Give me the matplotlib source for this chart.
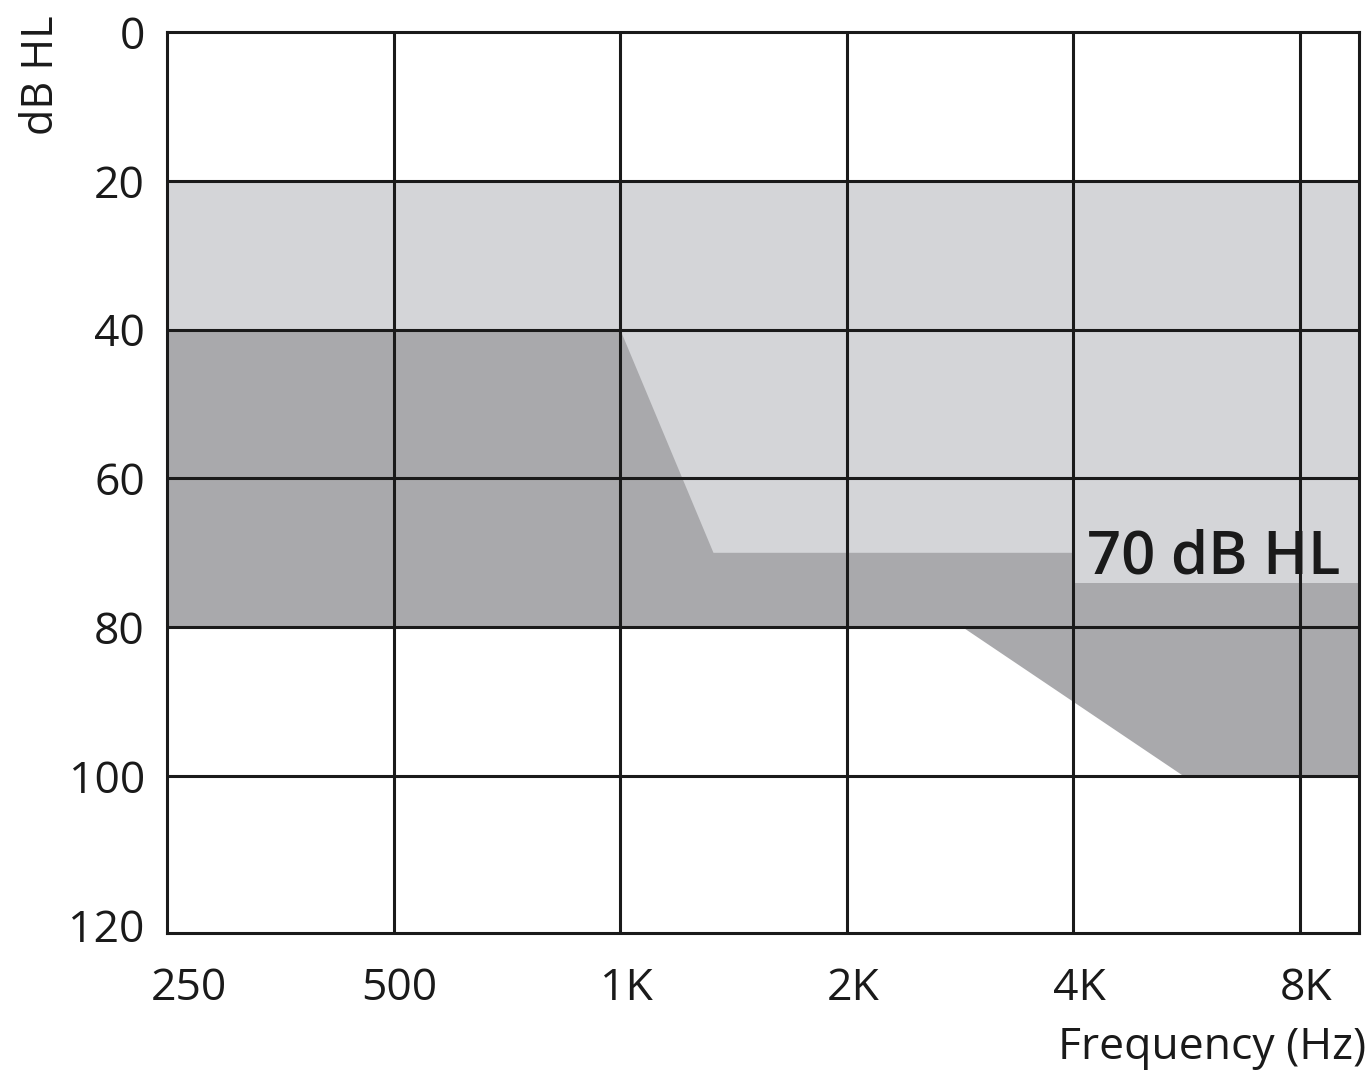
import matplotlib
matplotlib.use("Agg")
import matplotlib.pyplot as plt
import matplotlib.transforms as mtransforms

plt.rcParams['font.family'] = ['Open Sans', 'DejaVu Sans']

# ---- data ----
freq_ticks = [250, 500, 1000, 2000, 4000, 8000]
freq_labels = ["250", "500", "1K", "2K", "4K", "8K"]
db_ticks = [0, 20, 40, 60, 80, 100, 120]
db_labels = ["0", "20", "40", "60", "80", "100", "120"]

x_min, x_max = 251, 9580
y_min, y_max = 0, 121.1

# light band (mild/moderate range)
light_band_db = [20, 80]

# darker region boundaries
dark_top_freq = [250, 1000, 1330, 9580]
dark_top_db = [40, 40, 70, 70]
dark_bot_freq = [9580, 5600, 2850, 250]
dark_bot_db = [100, 100, 80, 80]

annotation_text = "70 dB HL"
annotation_pos = (4170, 70.7)
label_box_freq = [4000, 9580]
label_box_db = [66.5, 74.1]

light_color = "#d4d5d8"
dark_color = "#a9a9ac"
line_color = "#1a1a1a"

# ---- figure ----
fig = plt.figure(figsize=(13.72, 10.76), dpi=100)
ax = fig.add_axes([167/1372, 1 - 933/1076, (1359 - 167)/1372, (933 - 32)/1076])

ax.set_xscale('log')
ax.set_xlim(x_min, x_max)
ax.set_ylim(y_max, y_min)

ax.fill([x_min, x_max, x_max, x_min],
        [light_band_db[0], light_band_db[0], light_band_db[1], light_band_db[1]],
        color=light_color, lw=0, zorder=1)
ax.fill(dark_top_freq + dark_bot_freq, dark_top_db + dark_bot_db,
        color=dark_color, lw=0, zorder=1.5)
# light background behind the annotation
ax.fill([label_box_freq[0], label_box_freq[1], label_box_freq[1], label_box_freq[0]],
        [label_box_db[0], label_box_db[0], label_box_db[1], label_box_db[1]],
        color=light_color, lw=0, zorder=2)

for f in freq_ticks[1:]:
    ax.axvline(f, color=line_color, lw=2.2, zorder=3)
for d in db_ticks[1:-1]:
    ax.axhline(d, color=line_color, lw=2.2, zorder=3)

for s in ax.spines.values():
    s.set_linewidth(2.2)
    s.set_color(line_color)
    s.set_zorder(4)

ax.set_xticks(freq_ticks)
ax.set_xticklabels(freq_labels)
ax.set_yticks(db_ticks)
ax.set_yticklabels(db_labels)
ax.minorticks_off()
ax.tick_params(axis='both', length=0, labelsize=32, colors=line_color)
ax.tick_params(axis='x', pad=24)
ax.tick_params(axis='y', pad=16)

# shift x tick labels slightly right, 250 more
for i, lab in enumerate(ax.get_xticklabels()):
    dx = 22 if i == 0 else 6
    lab.set_transform(lab.get_transform() +
                      mtransforms.ScaledTranslation(dx/100, 0, fig.dpi_scale_trans))

ax.text(annotation_pos[0], annotation_pos[1], annotation_text, fontsize=43,
        fontweight='semibold', color=line_color, ha='left', va='center',
        zorder=3.5)

fig.text(42/1372, 1 - 75/1076, "dB HL", rotation=90, fontsize=31,
         color=line_color, ha='center', va='center')
fig.text(1366/1372, 1 - 1048/1076, "Frequency (Hz)", fontsize=32,
         color=line_color, ha='right', va='center')

fig.savefig("out.png", dpi=100, facecolor='white')
